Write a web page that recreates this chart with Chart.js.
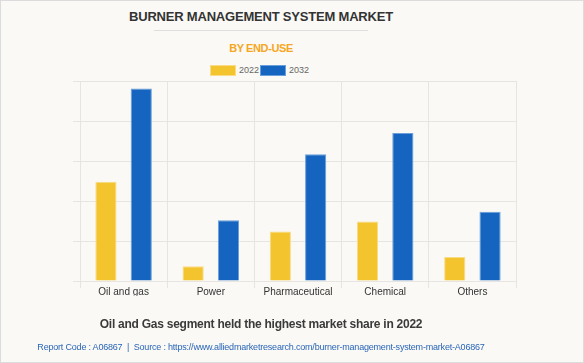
<!DOCTYPE html>
<html>
<head>
<meta charset="utf-8">
<script src="https://cdn.jsdelivr.net/npm/chart.js@4.4.1/dist/chart.umd.min.js"></script>
<style>
  html, body { margin: 0; padding: 0; }
  body {
    width: 584px; height: 363px; position: relative; overflow: hidden;
    background: #faf9f5; font-family: "Liberation Sans", Arial, sans-serif;
  }
  .frame { position: absolute; left: 0; top: 0; width: 582px; height: 361px; border: 1px solid #dcdcdc; }
  /* text block is centred around x=261 in the original */
  .title { position: absolute; top: 9px; left: 0; width: 522px; text-align: center;
    font-size: 13px; font-weight: bold; color: #333; letter-spacing: -0.2px; }
  .rule { position: absolute; top: 30px; left: 154px; width: 214px; height: 1px; background: #dedede; }
  .subtitle { position: absolute; top: 42px; left: 0; width: 522px; text-align: center;
    font-size: 11px; font-weight: bold; color: #f6a623; letter-spacing: -0.4px; }
  .legend { position: absolute; top: 64px; left: 210px; height: 12px; font-size: 9px; color: #666; }
  .legend span.box { position: absolute; top: 1px; width: 24px; height: 9px; border: 1px solid; }
  .legend span.lbl { position: absolute; top: 0px; line-height: 12px; }
  .note { position: absolute; top: 317px; left: 0; width: 522px; text-align: center;
    font-size: 12px; font-weight: bold; color: #3a3a3a; letter-spacing: -0.25px; }
  .source { position: absolute; top: 342px; left: 0; width: 522px; text-align: center;
    font-size: 9px; color: #2a66b8; letter-spacing: -0.2px; white-space: nowrap; }
  canvas { position: absolute; left: 0; top: 0; }
</style>
</head>
<body>
<div class="frame"></div>
<div class="title">BURNER MANAGEMENT SYSTEM MARKET</div>
<div class="rule"></div>
<div class="subtitle">BY END-USE</div>
<div class="legend" id="legend"></div>
<div style="position:absolute;left:0;top:0;width:584px;height:363px;">
  <canvas id="bms-chart" width="584" height="363"></canvas>
</div>
<div class="note">Oil and Gas segment held the highest market share in 2022</div>
<div class="source">Report Code : A06867 &nbsp;|&nbsp; Source : https://www.alliedmarketresearch.com/burner-management-system-market-A06867</div>

<script>
// data (no axis labels, values in grid units)
const categories = ["Oil and gas", "Power", "Pharmaceutical", "Chemical", "Others"];
const values2022 = [2.48, 0.37, 1.24, 1.49, 0.60];
const values2032 = [4.81, 1.52, 3.17, 3.70, 1.73];
const seriesLabels = ["2022", "2032"];
const seriesFill = ['#f4c42f', '#1565c0'];
const seriesEdge = ['#f9dc85', '#6a9fdc'];

const gridColor = '#e6e5e1';

// legend sits left of the plot centre in the original, so build it in html
const legendEl = document.getElementById('legend');
seriesLabels.forEach((lbl, i) => {
  const x = i * 50;
  legendEl.innerHTML +=
    `<span class="box" style="left:${x}px;background:${seriesFill[i]};border-color:${seriesEdge[i]}"></span>` +
    `<span class="lbl" style="left:${x + 29}px">${lbl}</span>`;
});

const ctx = document.getElementById('bms-chart').getContext('2d');
Chart.defaults.font.family = "'Liberation Sans', Arial, sans-serif";
Chart.defaults.color = '#333';

const makeDataset = (i, data) => ({
  label: seriesLabels[i],
  data: data,
  backgroundColor: seriesFill[i],
  borderColor: seriesEdge[i],
  borderWidth: 1,
  categoryPercentage: 0.81,
  barPercentage: 0.6
});

const chart = new Chart(ctx, {
  type: 'bar',
  data: {
    labels: categories,
    datasets: [makeDataset(0, values2022), makeDataset(1, values2032)]
  },
  options: {
    responsive: false,
    animation: false,
    layout: { padding: { left: 73, right: 68, top: 81, bottom: 67 } },
    plugins: {
      legend: { display: false },
      tooltip: { enabled: false }
    },
    scales: {
      x: {
        grid: { color: gridColor, tickLength: 7, offset: true },
        border: { color: gridColor },
        ticks: { color: '#333', font: { size: 10 }, padding: -2 }
      },
      y: {
        min: 0,
        max: 5,
        grid: { color: gridColor, tickLength: 7 },
        border: { color: gridColor },
        ticks: { display: false, stepSize: 1 }
      }
    }
  }
});
</script>
</body>
</html>
